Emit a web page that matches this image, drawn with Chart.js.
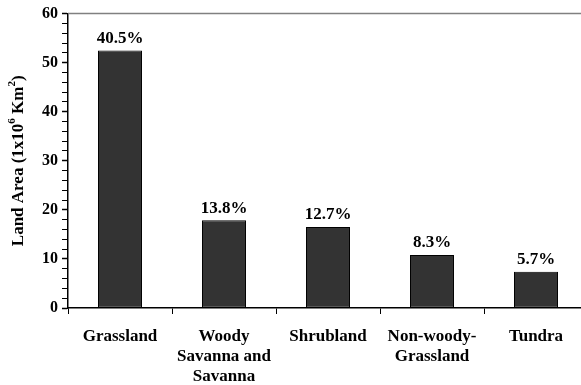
<!DOCTYPE html>
<html>
<head>
<meta charset="utf-8">
<script src="https://cdn.jsdelivr.net/npm/chart.js@4/dist/chart.umd.min.js"></script>
<style>
  html, body { margin: 0; padding: 0; background: #fff; overflow: hidden; }
  #wrap { width: 581px; height: 385px; overflow: hidden; }
</style>
</head>
<body>
<div id="wrap"><canvas id="landChart" width="588" height="385"></canvas></div>
<script>
// Land cover classes and their area (10^6 km2), share labels above bars
const categories = ['Grassland', ['Woody', 'Savanna and', 'Savanna'], 'Shrubland', ['Non-woody-', 'Grassland'], 'Tundra'];
const landArea = [52.5, 17.9, 16.5, 10.8, 7.4];
const shares = ['40.5%', '13.8%', '12.7%', '8.3%', '5.7%'];
const yMin = 0, yMax = 60, yMinorStep = 2, yMajorStep = 10;
const axisTitle = [['Land Area (1x10', false], ['6', true], [' Km', false], ['2', true], [')', false]];

const SERIF = '"Liberation Serif", "Times New Roman", serif';

// percentage labels above each bar
const shareLabels = {
    id: 'shareLabels',
    afterDatasetsDraw(chart) {
        const ctx = chart.ctx;
        const meta = chart.getDatasetMeta(0);
        ctx.save();
        ctx.font = 'bold 17px ' + SERIF;
        ctx.fillStyle = '#000';
        ctx.textAlign = 'center';
        ctx.textBaseline = 'middle';
        meta.data.forEach((bar, i) => {
            ctx.fillText(shares[i], bar.x, bar.y - 12);
        });
        ctx.restore();
    }
};

// rotated y title with superscripts, plus the grey top frame line
const frameAndTitle = {
    id: 'frameAndTitle',
    afterDraw(chart) {
        const { ctx, chartArea } = chart;
        ctx.save();
        ctx.strokeStyle = '#808080';
        ctx.lineWidth = 1.5;
        ctx.beginPath();
        ctx.moveTo(chartArea.left, chartArea.top);
        ctx.lineTo(chart.width, chartArea.top);
        ctx.stroke();

        const cy = (chartArea.top + chartArea.bottom) / 2;
        ctx.translate(19, cy);
        ctx.rotate(-Math.PI / 2);
        ctx.fillStyle = '#000';
        ctx.textBaseline = 'middle';
        ctx.textAlign = 'left';
        const big = 'bold 17px ' + SERIF, small = 'bold 11px ' + SERIF;
        let total = 0;
        axisTitle.forEach(([t, sup]) => {
            ctx.font = sup ? small : big;
            total += ctx.measureText(t).width;
        });
        let x = -total / 2;
        axisTitle.forEach(([t, sup]) => {
            ctx.font = sup ? small : big;
            ctx.fillText(t, x, sup ? -7 : 0);
            x += ctx.measureText(t).width;
        });
        ctx.restore();
    }
};

new Chart(document.getElementById('landChart'), {
    type: 'bar',
    data: {
        labels: categories,
        datasets: [{
            data: landArea,
            backgroundColor: '#333333',
            borderColor: '#000',
            borderWidth: 1,
            borderSkipped: false,
            barPercentage: 0.423,
            categoryPercentage: 1
        }]
    },
    options: {
        responsive: false,
        animation: false,
        devicePixelRatio: 1,
        layout: { padding: { top: 12, right: 0, left: 0, bottom: 0 } },
        plugins: { legend: { display: false }, tooltip: { enabled: false } },
        scales: {
            x: {
                grid: { display: true, drawOnChartArea: false, tickLength: 6, color: '#000', offset: true },
                border: { color: '#000', width: 1.5 },
                ticks: {
                    color: '#000',
                    font: { family: SERIF, size: 17, weight: 'bold', lineHeight: 1.2 },
                    padding: 12,
                    maxRotation: 0,
                    autoSkip: false
                },
                afterFit: (scale) => { scale.height = 77; }
            },
            y: {
                min: yMin,
                max: yMax,
                grid: {
                    display: true,
                    drawOnChartArea: false,
                    tickLength: 6,
                    color: '#000',
                    tickWidth: (c) => (c.tick && c.tick.value % yMajorStep === 0 ? 1.5 : 1)
                },
                border: { color: '#000', width: 1.5 },
                ticks: {
                    stepSize: yMinorStep,
                    autoSkip: false,
                    color: '#000',
                    padding: 4,
                    font: { family: SERIF, size: 16, weight: 'bold' },
                    callback: (v) => (v % yMajorStep === 0 ? v : '')
                },
                afterFit: (scale) => { scale.width = 68; }
            }
        }
    },
    plugins: [shareLabels, frameAndTitle]
});
</script>
</body>
</html>
